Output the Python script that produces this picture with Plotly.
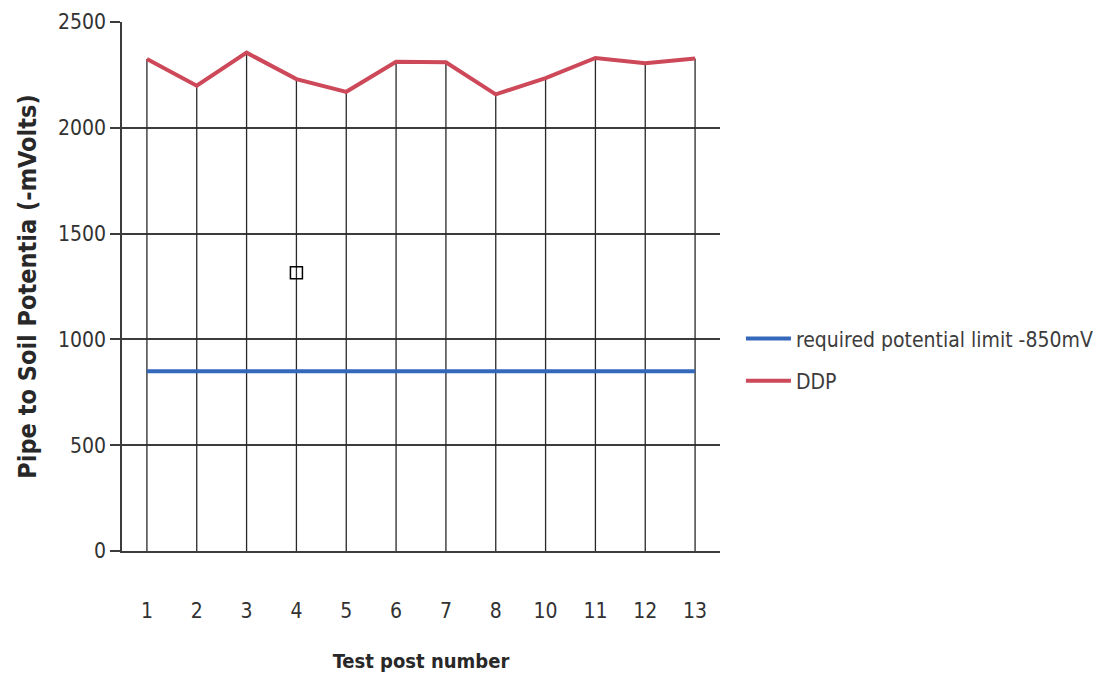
import plotly.graph_objects as go

# Test posts along the pipeline and measured potentials (-mV)
test_posts = ["1", "2", "3", "4", "5", "6", "7", "8", "10", "11", "12", "13"]
ddp_values = [2325, 2199, 2355, 2230, 2170, 2312, 2310, 2158, 2235, 2330, 2305, 2328]
limit_values = [850] * len(test_posts)
y_ticks = [0, 500, 1000, 1500, 2000, 2500]

RED = "rgb(205,72,88)"
BLUE = "rgb(52,104,186)"
GRID = "rgb(60,60,60)"
FONT = "DejaVu Sans Condensed, sans-serif"

# vertical drop lines from each DDP reading down to the axis
drop_x, drop_y = [], []
for post, val in zip(test_posts, ddp_values):
    drop_x += [post, post, None]
    drop_y += [0, val, None]

fig = go.Figure()
fig.add_trace(go.Scatter(
    x=drop_x, y=drop_y, mode="lines",
    line=dict(color="rgb(40,40,40)", width=1.3),
    showlegend=False, hoverinfo="skip",
))
fig.add_trace(go.Scatter(
    x=test_posts, y=limit_values, mode="lines",
    name="required potential limit -850mV", legendgroup="limit",
    line=dict(color=BLUE, width=4),
))
fig.add_trace(go.Scatter(
    x=test_posts, y=ddp_values, mode="lines",
    name="DDP", legendgroup="ddp",
    line=dict(color=RED, width=4),
))
# small open square marker near post 4
fig.add_trace(go.Scatter(
    x=["4"], y=[1315], mode="markers",
    marker=dict(symbol="square-open", size=12, color="black", line=dict(width=1.5)),
    showlegend=False, hoverinfo="skip",
))

fig.update_layout(
    width=1105, height=686,
    margin=dict(l=122, r=385, t=22, b=135, autoexpand=False),
    paper_bgcolor="white", plot_bgcolor="white",
    font=dict(family=FONT, color="rgb(50,50,50)"),
    legend=dict(
        x=1.035, y=0.44, xanchor="left", yanchor="top",
        font=dict(size=21, family=FONT, color="rgb(60,60,60)"),
        itemwidth=45, tracegroupgap=12, bgcolor="rgba(0,0,0,0)",
    ),
    xaxis=dict(
        type="category",
        range=[-0.5, len(test_posts) - 0.5],
        showgrid=False,
        showline=True, linecolor=GRID, linewidth=1.5,
        ticks="", ticklabelstandoff=40,
        tickfont=dict(size=21, family=FONT, color="rgb(50,50,50)"),
        title=dict(text="<b>Test post number</b>", standoff=32,
                   font=dict(size=20, family=FONT, color="rgb(40,40,40)")),
    ),
    yaxis=dict(
        range=[0, 2500],
        tickvals=y_ticks,
        showgrid=True, gridcolor=GRID, gridwidth=1.5,
        zeroline=False,
        showline=True, linecolor=GRID, linewidth=1.5,
        ticks="outside", ticklen=10, tickcolor=GRID, tickwidth=1.5,
        tickfont=dict(size=21, family=FONT, color="rgb(50,50,50)"),
        title=dict(text="<b>Pipe to Soil Potentia (-mVolts)</b>", standoff=14,
                   font=dict(size=25, family=FONT, color="rgb(40,40,40)")),
    ),
)

fig.write_html("out.html")
